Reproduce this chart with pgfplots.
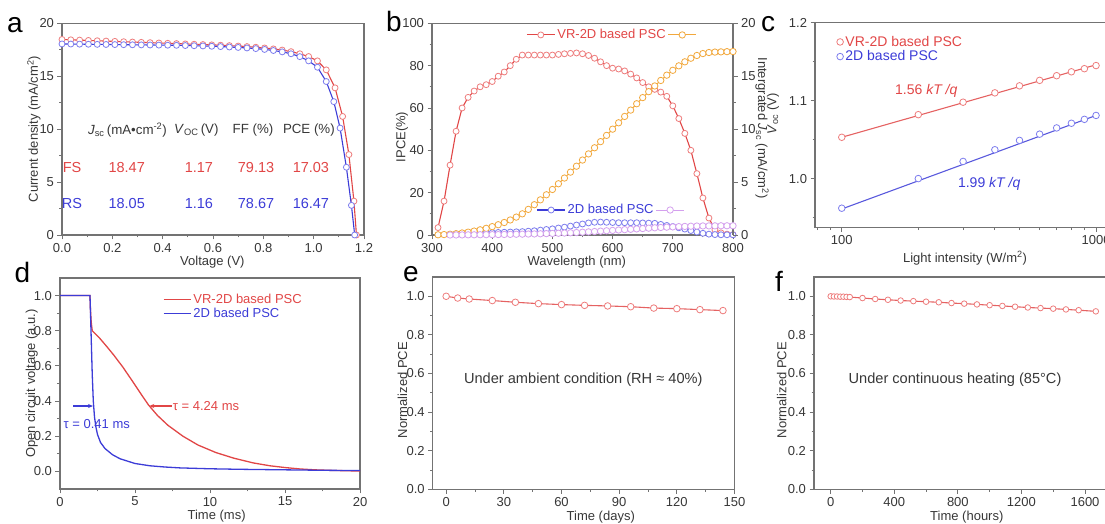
\documentclass[border=0pt]{standalone}
\usepackage{pgfplots}
\pgfplotsset{compat=1.18}
\usepackage{fontspec}
\setmainfont{Liberation Sans}
\usetikzlibrary{arrows.meta}

\definecolor{axgray}{RGB}{115,115,115}
\definecolor{txt}{RGB}{55,55,55}
\definecolor{cred}{RGB}{225,70,70}
\definecolor{cpink}{RGB}{238,125,125}
\definecolor{cblue}{RGB}{60,60,215}
\definecolor{cblueL}{RGB}{125,125,238}
\definecolor{corange}{RGB}{242,168,60}
\definecolor{cviolet}{RGB}{212,160,238}

\newcommand\fs[1]{\fontsize{#1}{#1}\selectfont}

\pgfplotsset{
  panel/.style={
    scale only axis, anchor=south west, clip mode=individual,
    axis line style={axgray, line width=1.3pt},
    every tick/.append style={axgray, line width=0.9pt},
    tick align=outside, major tick length=4.5pt, minor tick length=2.5pt,
    xtick pos=left, ytick pos=left,
    tick label style={font=\fs{13}, text=txt},
    label style={font=\fs{13}, text=txt},
    /pgf/number format/assume math mode=true,
    /pgf/number format/1000 sep={},
    legend style={draw=none, fill=none, font=\fs{13}},
    legend cell align=left,
  },
  onedec/.style={/pgf/number format/fixed, /pgf/number format/fixed zerofill, /pgf/number format/precision=1},
  xl/.style 2 args={xlabel style={at={(axis description cs:#1,#2)}, anchor=center}},
  yl/.style 2 args={ylabel style={at={(axis description cs:#1,#2)}, anchor=center}},
  redline/.style={cred, line width=1.1pt, mark=*, mark size=3pt, mark options={draw=cpink, fill=white, line width=0.8pt}},
  blueline/.style={cblue, line width=1.1pt, mark=*, mark size=3pt, mark options={draw=cblueL, fill=white, line width=0.8pt}},
  orline/.style={corange, line width=1pt, mark=*, mark size=3.2pt, mark options={draw=corange, fill=white, line width=0.8pt}},
  viline/.style={cviolet, line width=1pt, mark=*, mark size=3.2pt, mark options={draw=cviolet, fill=white, line width=0.8pt}},
  dred/.style={cred, line width=1.3pt},
  dblue/.style={cblue, line width=1.3pt},
  twolegend/.style={legend image code/.code={\draw[mark repeat=2,mark phase=2,##1] plot coordinates {(0pt,0pt) (14pt,0pt) (28pt,0pt)};}},
  linelegend/.style={legend image code/.code={\draw[##1] (0pt,0pt) -- (27pt,0pt);}},
}

\begin{document}
\begin{tikzpicture}[x=1pt,y=1pt]

% ---------- a ----------
\begin{axis}[panel, at={(62pt,289pt)}, width=302pt, height=211.7pt,
  xmin=0, xmax=1.2, ymin=0, ymax=20,
  xtick={0,0.2,0.4,0.6,0.8,1.0,1.2}, minor x tick num=1,
  ytick={0,5,10,15,20}, minor y tick num=1,
  xticklabel style={onedec},
  xlabel={Voltage (V)}, ylabel={Current density (mA/cm\textsuperscript{2})},
  xl={0.498}{-0.1275}, yl={-0.093}{0.5},
]
\addplot[redline] table {
0.000 18.47
0.035 18.44
0.070 18.41
0.105 18.38
0.140 18.35
0.175 18.32
0.210 18.29
0.245 18.26
0.280 18.23
0.315 18.20
0.350 18.17
0.385 18.14
0.420 18.11
0.455 18.08
0.490 18.05
0.525 18.02
0.560 17.99
0.595 17.96
0.630 17.93
0.665 17.89
0.700 17.85
0.735 17.80
0.770 17.74
0.805 17.67
0.840 17.58
0.875 17.47
0.910 17.32
0.945 17.12
0.980 16.86
1.015 16.45
1.050 15.60
1.085 13.90
1.115 11.20
1.140 7.60
1.160 3.20
1.170 0.00
};
\addplot[blueline] table {
0.000 18.05
0.035 18.04
0.070 18.03
0.105 18.02
0.140 18.01
0.175 18.00
0.210 17.99
0.245 17.98
0.280 17.97
0.315 17.96
0.350 17.95
0.385 17.94
0.420 17.93
0.455 17.92
0.490 17.90
0.525 17.88
0.560 17.86
0.595 17.83
0.630 17.80
0.665 17.76
0.700 17.72
0.735 17.67
0.770 17.61
0.805 17.53
0.840 17.43
0.875 17.30
0.910 17.12
0.945 16.85
0.980 16.45
1.015 15.85
1.050 14.50
1.080 12.60
1.105 10.10
1.130 6.40
1.150 2.80
1.163 0.00
};
\begin{scope}[every node/.style={font=\fs{13.3}, text=txt}]
\node at (axis cs:0.260,9.92) {\textit{J}\textsubscript{sc}\,(mA•cm\textsuperscript{-2})};
\node at (axis cs:0.534,9.92) {\textit{V}\textsubscript{OC}\,(V)};
\node at (axis cs:0.759,9.92) {FF (\%)};
\node at (axis cs:0.981,9.92) {PCE (\%)};
\end{scope}
\begin{scope}[every node/.style={font=\fs{14.5}, text=cred}]
\node at (axis cs:0.040,6.33) {FS};
\node at (axis cs:0.257,6.33) {18.47};
\node at (axis cs:0.544,6.33) {1.17};
\node at (axis cs:0.771,6.33) {79.13};
\node at (axis cs:0.989,6.33) {17.03};
\end{scope}
\begin{scope}[every node/.style={font=\fs{14.5}, text=cblue}]
\node at (axis cs:0.040,2.99) {RS};
\node at (axis cs:0.257,2.99) {18.05};
\node at (axis cs:0.544,2.99) {1.16};
\node at (axis cs:0.771,2.99) {78.67};
\node at (axis cs:0.989,2.99) {16.47};
\end{scope}
\end{axis}

% ---------- b (IPCE, left axis) ----------
\begin{axis}[panel, twolegend, at={(432pt,289pt)}, width=301pt, height=211.7pt,
  xmin=300, xmax=800, ymin=0, ymax=100,
  xtick={300,400,500,600,700,800}, minor x tick num=1,
  ytick={0,20,40,60,80,100}, minor y tick num=1,
  xlabel={Wavelength (nm)}, ylabel={IPCE(\%)},
  xl={0.481}{-0.1275}, yl={-0.1}{0.463},
  legend style={at={(axis description cs:0.603,0.945)}, anchor=center, legend columns=2, text=cred},
]
\addplot[redline, forget plot] table {
310 3.5
320 16
330 33
340 49
350 60
360 65
370 68
380 70
390 71
400 72.5
410 75
420 77
430 80
440 83
450 85
460 85
470 85
480 85
490 85
500 85
510 85.3
520 85.6
530 85.8
540 86
550 85.6
560 84.8
570 83.5
580 81.8
590 80
600 78.8
610 78.4
620 77.5
630 76
640 74.2
650 72
660 70
670 68.8
680 67.5
690 65.5
700 61
710 55
720 48
730 40
740 29
750 17.5
760 8
770 2.5
780 1
790 0.4
800 0.2
};
\addplot[blueline, forget plot] table {
330 0.3
340 0.5
350 0.6
360 0.7
370 0.8
380 0.9
390 1.0
400 1.1
410 1.2
420 1.3
430 1.4
440 1.5
450 1.6
460 1.8
470 2.0
480 2.3
490 2.6
500 2.9
510 3.3
520 3.7
530 4.2
540 4.7
550 5.2
560 5.7
570 6.0
580 6.1
590 6.0
600 5.9
610 5.8
620 5.8
630 5.8
640 5.8
650 5.7
660 5.6
670 5.5
680 5.0
690 4.5
700 4.0
710 3.4
720 2.8
730 2.1
740 1.4
750 0.8
760 0.4
770 0.2
780 0.1
790 0.1
800 0.1
};
\addlegendimage{redline}
\addlegendentry{VR-2D based PSC}
\addlegendimage{orline}
\addlegendentry{}
\end{axis}

% ---------- b (integrated Jsc, right axis) ----------
\begin{axis}[panel, twolegend, at={(432pt,289pt)}, width=301pt, height=211.7pt,
  xmin=300, xmax=800, ymin=0, ymax=20,
  axis x line=none, axis y line*=right, ytick pos=right,
  ytick={0,5,10,15,20}, minor y tick num=1,
  legend style={at={(axis description cs:0.6,0.118)}, anchor=center, legend columns=2, text=cblue},
]
\addplot[orline, forget plot] table {
310 0.02
320 0.04
330 0.07
340 0.12
350 0.19
360 0.27
370 0.37
380 0.49
390 0.63
400 0.79
410 0.97
420 1.18
430 1.42
440 1.69
450 2.00
460 2.42
470 2.86
480 3.32
490 3.80
500 4.30
510 4.84
520 5.38
530 5.94
540 6.50
550 7.08
560 7.66
570 8.24
580 8.82
590 9.41
600 10.00
610 10.60
620 11.20
630 11.80
640 12.40
650 12.98
660 13.54
670 14.08
680 14.60
690 15.10
700 15.56
710 15.98
720 16.36
730 16.70
740 16.96
750 17.14
760 17.24
770 17.28
780 17.30
790 17.32
800 17.33
};
\addplot[viline, forget plot] table {
330 0.00
340 0.005
350 0.01
360 0.015
370 0.02
380 0.025
390 0.03
400 0.035
410 0.04
420 0.05
430 0.06
440 0.07
450 0.08
460 0.09
470 0.10
480 0.115
490 0.13
500 0.145
510 0.165
520 0.185
530 0.21
540 0.235
550 0.265
560 0.295
570 0.33
580 0.365
590 0.40
600 0.435
610 0.47
620 0.505
630 0.54
640 0.575
650 0.61
660 0.645
670 0.68
680 0.71
690 0.74
700 0.765
710 0.79
720 0.81
730 0.83
740 0.845
750 0.855
760 0.86
770 0.865
780 0.87
790 0.87
800 0.87
};
\addlegendimage{blueline}
\addlegendentry{2D based PSC}
\addlegendimage{viline}
\addlegendentry{}
\end{axis}

% ---------- c ----------
\begin{axis}[panel, xmode=log, at={(815pt,296.3pt)}, width=310pt, height=205pt,
  xmin=78.5, xmax=1300, ymin=0.937, ymax=1.2,
  xtick={100,1000}, xticklabels={100,1000},
  minor xtick={80,90,200,300,400,500,600,700,800,900,1100,1200},
  ytick={1.0,1.1,1.2}, minor ytick={0.95,1.05,1.15},
  yticklabel style={onedec},
  xlabel={Light intensity (W/m\textsuperscript{2})},
  xl={0.484}{-0.148},
  legend style={at={(axis description cs:0.06,0.955)}, anchor=north west, row sep=-1pt, font=\fs{14}},
]
\addplot[cred!85, line width=1.1pt, forget plot] coordinates {(100,1.053) (1000,1.146)};
\addplot[cblue!85, line width=1.1pt, forget plot] coordinates {(100,0.961) (1000,1.081)};
\addplot[only marks, mark=*, mark size=3.3pt, mark options={draw=cpink, fill=white, line width=0.8pt}] coordinates {
(100,1.053) (200,1.082) (300,1.098) (400,1.110) (500,1.119) (600,1.126) (700,1.132) (800,1.137) (900,1.141) (1000,1.145)};
\addlegendentry{\textcolor{cred}{VR-2D based PSC}}
\addplot[only marks, mark=*, mark size=3.3pt, mark options={draw=cblueL, fill=white, line width=0.8pt}] coordinates {
(100,0.962) (200,1.000) (300,1.022) (400,1.037) (500,1.049) (600,1.057) (700,1.065) (800,1.071) (900,1.076) (1000,1.081)};
\addlegendentry{\textcolor{cblue}{2D based PSC}}
\node[font=\fs{14}, text=cred] at (axis cs:215,1.112) {1.56 \textit{kT /q}};
\node[font=\fs{14}, text=cblue] at (axis cs:380,0.993) {1.99 \textit{kT /q}};
\end{axis}

% right-hand label of b and y label of c (they sit close together)
\node[rotate=-90, font=\fs{13}, text=txt] at (762pt,396pt) {Intergrated \textit{J}\textsubscript{sc} (mA/cm\textsuperscript{2})};
\node[rotate=90, font=\fs{13}, text=txt] at (773pt,410pt) {\textit{V}\textsubscript{oc} (V)};

% ---------- d ----------
\begin{axis}[panel, linelegend, at={(60pt,35pt)}, width=300pt, height=211pt,
  xmin=0, xmax=20, ymin=-0.1, ymax=1.1,
  xtick={0,5,10,15,20}, minor x tick num=1,
  ytick={0,0.2,0.4,0.6,0.8,1.0}, minor y tick num=1,
  yticklabel style={onedec},
  xlabel={Time (ms)}, ylabel={Open circuit voltage (a.u.)},
  xl={0.522}{-0.127}, yl={-0.094}{0.5},
  legend style={at={(axis description cs:0.333,0.945)}, anchor=north west, row sep=-1pt},
]
\addplot[dred, forget plot] table {
0 1.0
2.0 1.0
2.03 0.92
2.08 0.85
2.15 0.80
2.6 0.762
3.1 0.712
3.6 0.660
4.2 0.592
4.8 0.517
5.4 0.440
5.9 0.378
6.5 0.318
7.2 0.262
8.2 0.200
9.2 0.150
10.4 0.107
11.6 0.075
12.9 0.048
14.0 0.032
15.0 0.022
16.0 0.014
17.0 0.009
18.0 0.006
19.0 0.004
20.0 0.002
};
\addplot[dblue, forget plot] table {
0 1.0
2.0 1.0
2.05 0.85
2.1 0.70
2.15 0.55
2.22 0.40
2.3 0.31
2.4 0.25
2.5 0.21
2.7 0.165
3.0 0.13
3.5 0.095
4.0 0.072
5.0 0.045
6.0 0.032
7.0 0.025
8.0 0.020
10.0 0.015
12.0 0.012
15.0 0.009
18.0 0.006
20.0 0.005
};
\addlegendimage{dred}
\addlegendentry{\textcolor{cred}{VR-2D based PSC}}
\addlegendimage{dblue}
\addlegendentry{\textcolor{cblue}{2D based PSC}}
\draw[cblue, line width=1.1pt, -{Stealth[length=5pt,width=4pt]}] (axis cs:0.89,0.372) -- (axis cs:2.2,0.372);
\draw[cred, line width=1.1pt, -{Stealth[length=5pt,width=4pt]}] (axis cs:7.45,0.372) -- (axis cs:5.95,0.372);
\node[font=\fs{13}, text=cblue] at (axis cs:2.45,0.27) {τ = 0.41 ms};
\node[font=\fs{13}, text=cred, anchor=west, inner sep=1pt] at (axis cs:7.45,0.372) {τ = 4.24 ms};
\end{axis}

% ---------- e ----------
\begin{axis}[panel, at={(432.7pt,34.7pt)}, width=301.8pt, height=212.3pt,
  xmin=-7, xmax=150, ymin=0, ymax=1.1,
  xtick={0,30,60,90,120,150}, minor x tick num=1,
  ytick={0,0.2,0.4,0.6,0.8,1.0}, minor y tick num=1,
  yticklabel style={onedec},
  xlabel={Time (days)}, ylabel={Normalized PCE},
  xl={0.557}{-0.1295}, yl={-0.1}{0.467},
]
\addplot[redline, cred!85, mark size=3.3pt] table {
0 1.000
6 0.991
12 0.986
24 0.978
36 0.969
48 0.962
60 0.957
72 0.953
84 0.950
96 0.946
108 0.939
120 0.936
132 0.931
144 0.926
};
\node[font=\fs{14.6}, text=txt] at (axis description cs:0.499,0.516) {Under ambient condition (RH ≈ 40\%)};
\end{axis}

% ---------- f ----------
\begin{axis}[panel, at={(814pt,34.7pt)}, width=302pt, height=212.3pt,
  xmin=-105, xmax=1795, ymin=0, ymax=1.1,
  xtick={0,400,800,1200,1600}, minor x tick num=1,
  ytick={0,0.2,0.4,0.6,0.8,1.0}, minor y tick num=1,
  yticklabel style={onedec},
  xlabel={Time (hours)}, ylabel={Normalized PCE},
  xl={0.506}{-0.1295}, yl={-0.107}{0.467},
]
\addplot[redline, cred!85, mark size=2.8pt] table {
0 1.000
20 0.999
40 0.999
60 0.998
80 0.998
100 0.997
120 0.996
200 0.991
280 0.986
360 0.982
440 0.978
520 0.975
600 0.972
680 0.969
760 0.965
840 0.962
920 0.958
1000 0.954
1080 0.950
1160 0.946
1240 0.942
1320 0.939
1400 0.936
1480 0.932
1560 0.928
1668 0.922
};
\node[font=\fs{14.6}, text=txt] at (axis description cs:0.467,0.516) {Under continuous heating (85°C)};
\end{axis}

% panel letters
\begin{scope}[every node/.style={font=\fs{28}, anchor=base, inner sep=0pt}]
\node at (15pt,491pt) {a};
\node at (394pt,492.3pt) {b};
\node at (768pt,492.3pt) {c};
\node at (22.5pt,241pt) {d};
\node at (411pt,242pt) {e};
\node at (779pt,232.3pt) {f};
\end{scope}

\pgfresetboundingbox
\path[use as bounding box] (0pt,0pt) rectangle (1105pt,524pt);
\end{tikzpicture}
\end{document}
